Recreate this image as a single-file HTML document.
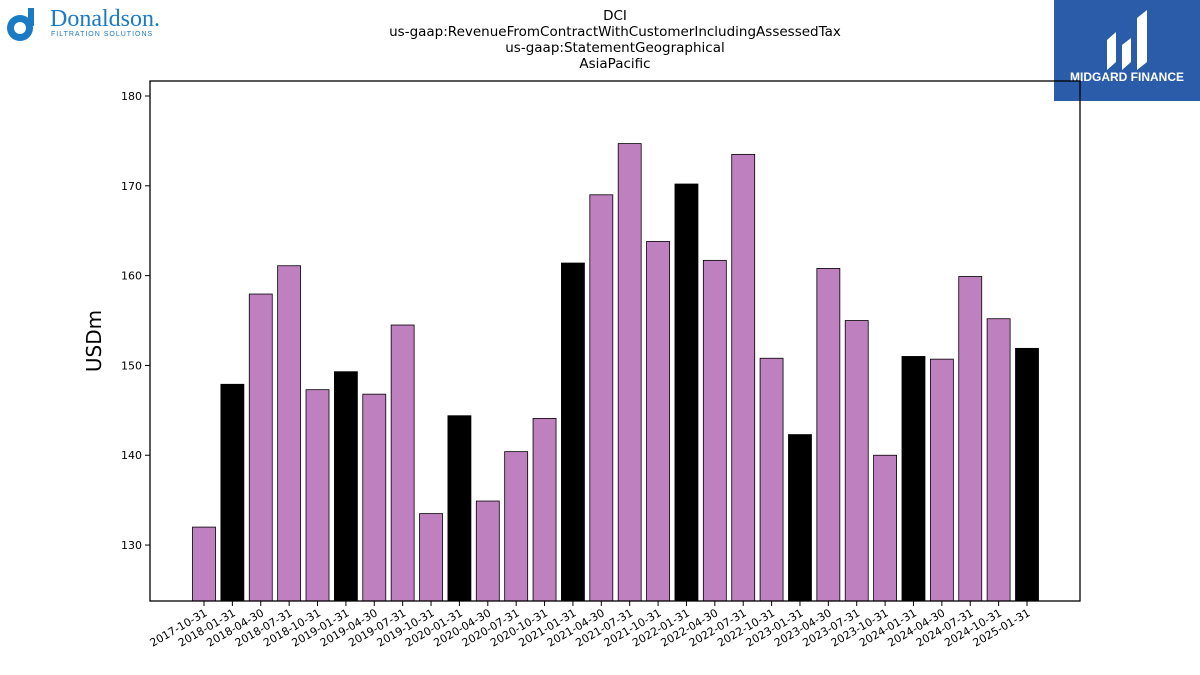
<!DOCTYPE html>
<html><head><meta charset="utf-8"><style>
body{margin:0;background:#fff;font-family:"DejaVu Sans","Liberation Sans",sans-serif;}
svg{display:block}
</style></head><body>
<svg width="1200" height="675" viewBox="0 0 1200 675">
<g>
<circle cx="20" cy="28" r="13" fill="#1a7ac4"/><circle cx="20" cy="28" r="6" fill="#fff"/>
<rect x="28" y="8" width="6" height="18" fill="#1a7ac4"/>
<text x="50" y="26" font-family="Liberation Serif,serif" font-size="24" fill="#1a7ac4">Donaldson.</text>
<text x="51" y="36" font-family="Liberation Sans,sans-serif" font-size="7" fill="#1a7ac4" letter-spacing="1">FILTRATION SOLUTIONS</text>
</g>
<g>
<rect x="1054" y="0" width="146" height="101" fill="#2a5caa"/>
<path d="M1107 70 L1107 40 L1116 32 L1116 62 Z M1122 70 L1122 45 L1131 38 L1131 62 Z M1137 70 L1137 18 L1147 10 L1147 62 Z" fill="#fff"/>
<text x="1127" y="81" font-family="Liberation Sans,sans-serif" font-size="12" font-weight="bold" fill="#fff" text-anchor="middle">MIDGARD FINANCE</text>
</g>
<g font-size="13.5" text-anchor="middle" fill="#000">
<text x="615" y="20">DCI</text>
<text x="615" y="36">us-gaap:RevenueFromContractWithCustomerIncludingAssessedTax</text>
<text x="615" y="52">us-gaap:StatementGeographical</text>
<text x="615" y="68">AsiaPacific</text>
</g>
<text x="101" y="341" font-size="20" text-anchor="middle" transform="rotate(-90 101 341)">USDm</text>
<g id="bars"></g><g id="yt"></g><g id="xt"></g>
<rect x="150" y="81" width="930" height="520" fill="none" stroke="#000" stroke-width="1.3"/>
</svg>
<script>
const categories=["2017-10-31","2018-01-31","2018-04-30","2018-07-31","2018-10-31","2019-01-31","2019-04-30","2019-07-31","2019-10-31","2020-01-31","2020-04-30","2020-07-31","2020-10-31","2021-01-31","2021-04-30","2021-07-31","2021-10-31","2022-01-31","2022-04-30","2022-07-31","2022-10-31","2023-01-31","2023-04-30","2023-07-31","2023-10-31","2024-01-31","2024-04-30","2024-07-31","2024-10-31","2025-01-31"];
const values=[132.0,147.9,157.95,161.1,147.3,149.3,146.8,154.5,133.5,144.4,134.9,140.4,144.1,161.4,169.0,174.7,163.8,170.2,161.7,173.5,150.8,142.3,160.8,155.0,140.0,151.0,150.7,159.9,155.2,151.9];
const yTicks=[130,140,150,160,170,180];
const NS="http://www.w3.org/2000/svg";
const yMin=123.77,yMax=181.67,pTop=81,pBot=601;
const yS=v=>pBot-(v-yMin)/(yMax-yMin)*(pBot-pTop);
const xS=i=>204+i*(1027-204)/(categories.length-1);
const bw=23;
const bars=document.getElementById('bars'),yt=document.getElementById('yt'),xt=document.getElementById('xt');
function mk(t,a){const e=document.createElementNS(NS,t);for(const k in a)e.setAttribute(k,a[k]);return e;}
values.forEach((v,i)=>{
 const black=categories[i].endsWith('-01-31');
 const r=mk('rect',{x:xS(i)-bw/2,y:yS(v),width:bw,height:pBot-yS(v),fill:black?'#000':'#bf80bf',stroke:'#000','stroke-width':0.8});
 
 
 bars.appendChild(r);
 const tk=mk('line',{x1:xS(i),x2:xS(i),y1:pBot,y2:pBot+5,stroke:'#000'});
 
 
 xt.appendChild(tk);
 const t=mk('text',{x:xS(i)+4,y:pBot+14,'font-size':11,'text-anchor':'end',transform:`rotate(-30 ${xS(i)+4} ${pBot+14})`});
 t.textContent=categories[i];
 
 
 xt.appendChild(t);
});
yTicks.forEach(v=>{
 const tk=mk('line',{x1:145,x2:150,y1:yS(v),y2:yS(v),stroke:'#000'});
 
 
 yt.appendChild(tk);
 const t=mk('text',{x:142,y:yS(v)+4,'font-size':11,'text-anchor':'end'});
 t.textContent=v;
 
 
 yt.appendChild(t);
});
</script>
</body></html>
